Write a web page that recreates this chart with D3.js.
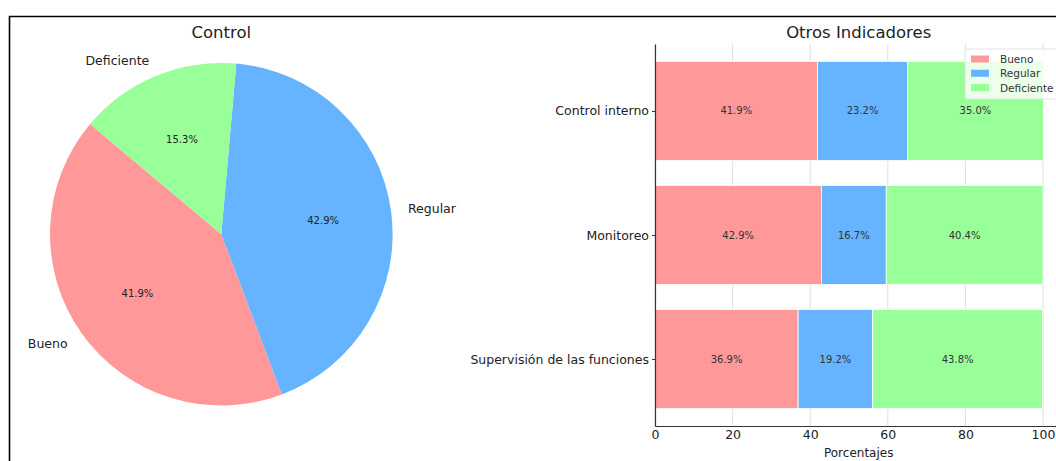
<!DOCTYPE html>
<html><head><meta charset="utf-8">
<script src="https://cdn.jsdelivr.net/npm/d3@7"></script>
<style>
html,body{margin:0;padding:0;background:#fff;}
svg{display:block;font-family:"DejaVu Sans",sans-serif;}
</style></head>
<body><svg id="c" width="1056" height="461"></svg>
<script>
// ---- data ----
const pieLabels = ["Bueno", "Regular", "Deficiente"];
const pieValues = [41.9, 42.9, 15.3];
const barCategories = ["Control interno", "Monitoreo", "Supervisión de las funciones"];
const seriesNames = ["Bueno", "Regular", "Deficiente"];
const bueno = [41.9, 42.9, 36.9];
const regular = [23.2, 16.7, 19.2];
const deficiente = [35.0, 40.4, 43.8];
const xTicks = [0, 20, 40, 60, 80, 100];
const colors = ["#ff9999", "#66b3ff", "#99ff99"];

const svg = d3.select("#c");

// frame border (figure edge)
svg.append("path").attr("d", "M9.5,461 V16.5 H1056").attr("fill", "none")
  .attr("stroke", "#000").attr("stroke-width", 1.6);

// ---------- Pie ----------
const cx = 221.3, cy = 234.2, R = 171.3;
const startDeg = 140; // matplotlib startangle, counterclockwise
const a0 = (90 - startDeg) * Math.PI / 180;
const pie = d3.pie().sort(null).value(d => d.v).startAngle(a0).endAngle(a0 - 2 * Math.PI);
const arcs = pie(pieLabels.map((l, i) => ({ l, v: pieValues[i], c: colors[i] })));
const arc = d3.arc().innerRadius(0).outerRadius(R);
const pg = svg.append("g").attr("transform", `translate(${cx},${cy})`);
pg.selectAll("path.s").data(arcs).join("path").attr("class", "s")
  .attr("d", arc).attr("fill", d => d.data.c);
const total = d3.sum(pieValues);
arcs.forEach(d => {
  const m = (d.startAngle + d.endAngle) / 2;
  const sx = Math.sin(m), sy = -Math.cos(m);
  pg.append("text").attr("x", sx * R * 0.6).attr("y", sy * R * 0.6)
    .attr("text-anchor", "middle").attr("dominant-baseline", "central")
    .attr("font-size", 10).attr("fill", "#222")
    .text((d.data.v / total * 100).toFixed(1) + "%");
  pg.append("text").attr("x", sx * R * 1.1).attr("y", sy * R * 1.1)
    .attr("text-anchor", sx > 0 ? "start" : "end").attr("dominant-baseline", "central")
    .attr("font-size", 12.5).attr("fill", "#222").text(d.data.l);
});
svg.append("text").attr("x", cx).attr("y", 32.5).attr("text-anchor", "middle")
  .attr("dominant-baseline", "central").attr("font-size", 16.5).attr("fill", "#222").text("Control");

// ---------- Stacked bars ----------
const x = d3.scaleLinear().domain([0, 105]).range([655, 1062.4]);
const y = d3.scaleLinear().domain([-0.54, 2.54]).range([426, 44]);
const rows = barCategories.map((c, i) => ({ c, pos: barCategories.length - 1 - i, vals: [bueno[i], regular[i], deficiente[i]] }));

const bg = svg.append("g");
// grid
bg.selectAll("line.g").data(xTicks).join("line").attr("class", "g")
  .attr("x1", d => x(d)).attr("x2", d => x(d)).attr("y1", y(2.54)).attr("y2", y(-0.54))
  .attr("stroke", "#d8d8d8").attr("stroke-width", 0.8);

const bh = y(0) - y(0.8);
rows.forEach(r => {
  let acc = 0;
  r.vals.forEach((v, k) => {
    const x0 = acc; acc += v;
    bg.append("rect").attr("x", x(x0)).attr("width", x(acc) - x(x0))
      .attr("y", y(r.pos + 0.4)).attr("height", bh).attr("fill", colors[k])
      .attr("stroke", "#fff").attr("stroke-width", 0.8);
    bg.append("text").attr("x", x(x0 + v / 2)).attr("y", y(r.pos))
      .attr("text-anchor", "middle").attr("dominant-baseline", "central")
      .attr("font-size", 10).attr("fill", "#333").text(v.toFixed(1) + "%");
  });
});

// axes
const xAxis = d3.axisBottom(x).tickValues(xTicks).tickSize(0).tickPadding(4);
const xg = svg.append("g").attr("transform", `translate(0,${y(-0.54)})`).call(xAxis);
xg.select(".domain").attr("stroke", "#333").attr("stroke-width", 1.2);
xg.selectAll("text").attr("font-size", 12.5).attr("fill", "#222").attr("font-family", "DejaVu Sans");

const yAxis = d3.axisLeft(y).tickValues(rows.map(r => r.pos)).tickFormat(p => rows.find(r => r.pos === p).c)
  .tickSize(3).tickSizeOuter(0).tickPadding(3);
const yg = svg.append("g").attr("transform", `translate(${x(0)},0)`).call(yAxis);
yg.select(".domain").attr("stroke", "#333").attr("stroke-width", 1.2);
yg.selectAll("line").attr("stroke", "#333");
yg.selectAll("text").attr("font-size", 12.5).attr("fill", "#222").attr("font-family", "DejaVu Sans");

svg.append("text").attr("x", (x(0) + x(105)) / 2).attr("y", 452.5).attr("text-anchor", "middle")
  .attr("dominant-baseline", "central").attr("font-size", 12).attr("fill", "#222").text("Porcentajes");
svg.append("text").attr("x", (x(0) + x(105)) / 2).attr("y", 32.5).attr("text-anchor", "middle")
  .attr("dominant-baseline", "central").attr("font-size", 16.5).attr("fill", "#222").text("Otros Indicadores");

// legend
const lg = svg.append("g").attr("transform", "translate(965,49)");
lg.append("rect").attr("x", 0).attr("y", 0).attr("width", 110).attr("height", 50).attr("rx", 2)
  .attr("fill", "#fff").attr("fill-opacity", 0.8).attr("stroke", "#ddd").attr("stroke-width", 0.8);
seriesNames.forEach((s, i) => {
  const yy = 10 + i * 14.3;
  lg.append("rect").attr("x", 6).attr("y", yy - 3.5).attr("width", 18).attr("height", 7).attr("fill", colors[i]);
  lg.append("text").attr("x", 35).attr("y", yy).attr("dominant-baseline", "central")
    .attr("font-size", 10.5).attr("fill", "#333").text(s);
});
</script></body></html>
